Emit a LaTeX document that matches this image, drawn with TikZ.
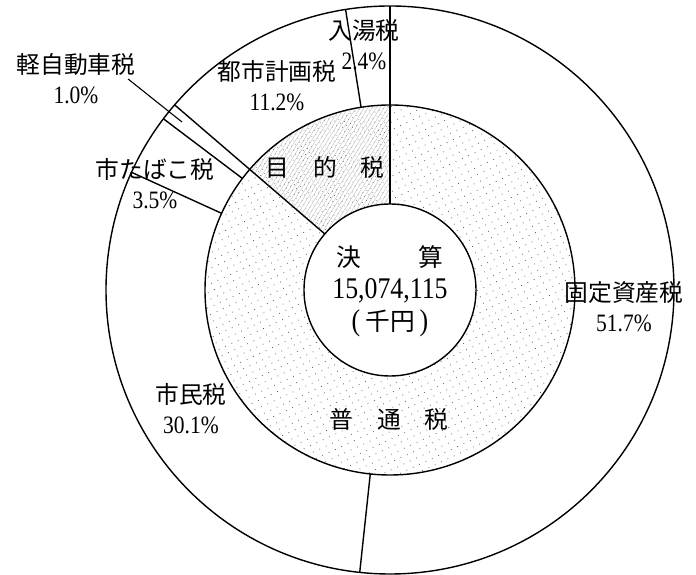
\documentclass[tikz,border=0pt]{standalone}
\usepackage{fontspec}
\setmainfont[FakeStretch=0.86]{Liberation Serif}
\newfontfamily\jpfont[Scale=0.95]{Noto Sans CJK JP}
\usepackage{tikz}
\usetikzlibrary{positioning,patterns.meta}

\begin{document}
\begin{tikzpicture}[x=1pt,y=1pt,line width=1.4pt]
    \tikzstyle{share}=[align=center,inner sep=0pt,font=\fontsize{25}{30}\selectfont]
    \tikzstyle{general}=[pattern={Dots[distance=7pt,radius=0.55pt,angle=25]},pattern color=black!65]
    \tikzstyle{special}=[pattern={Lines[angle=58,distance=3.4pt,line width=0.3pt]},pattern color=black!30,
        postaction={pattern={Dots[distance=4.5pt,radius=0.45pt,angle=25]},pattern color=black!60}]
    \useasboundingbox (0,0) rectangle (696,575);
    \coordinate (c) at (390,285);
    % inner ring
    \path[general] ([shift={(90:185)}]c) arc[start angle=90,end angle=-220.68,radius=185]
        -- ([shift={(139.32:86)}]c) arc[start angle=139.32,end angle=450,radius=86] -- cycle;
    \path[special] ([shift={(90:185)}]c) arc[start angle=90,end angle=139.32,radius=185]
        -- ([shift={(139.32:86)}]c) arc[start angle=139.32,end angle=90,radius=86] -- cycle;
    \draw (c) circle[radius=284] (c) circle[radius=185] (c) circle[radius=86];
    \foreach \a/\r in {90/86,-96.12/185,155.52/185,142.92/185,139.32/86,99/185}
        \draw ([shift={(\a:\r)}]c) -- ([shift={(\a:284)}]c);
    % labels
    \node[share] (nyuto)  at (364,530) {{\jpfont 入湯税}\\2.4\%};
    \node[share] (toshi)  at (277,489) {{\jpfont 都市計画税}\\11.2\%};
    \node[share] (kei)    at (76,496)  {{\jpfont 軽自動車税}\\1.0\%};
    \node[share] (tabako) at (155,391) {{\jpfont 市たばこ税}\\3.5\%};
    \node[share] (kotei)  at (624,268) {{\jpfont 固定資産税}\\51.7\%};
    \node[share] (shimin) at (191,166) {{\jpfont 市民税}\\30.1\%};
    \node[share] (mokuteki) at (325,408) {\jpfont 目\hspace{1em}的\hspace{1em}税};
    \node[share] (futsu)  at (389,156) {\jpfont 普\hspace{1em}通\hspace{1em}税};
    \node[share,font=\fontsize{30}{32}\selectfont] (kessan) at (390,284)
        {{\jpfont\fontsize{26}{32}\selectfont 決\hspace{2.3em}算}\\15,074,115\\(\,{\jpfont\fontsize{26}{32}\selectfont 千円}\,)};
    \coordinate (kei end) at (182,453);
    \draw[line width=1.1pt] ([xshift=-8pt]kei.east) -- (kei end);
\end{tikzpicture}
\end{document}
